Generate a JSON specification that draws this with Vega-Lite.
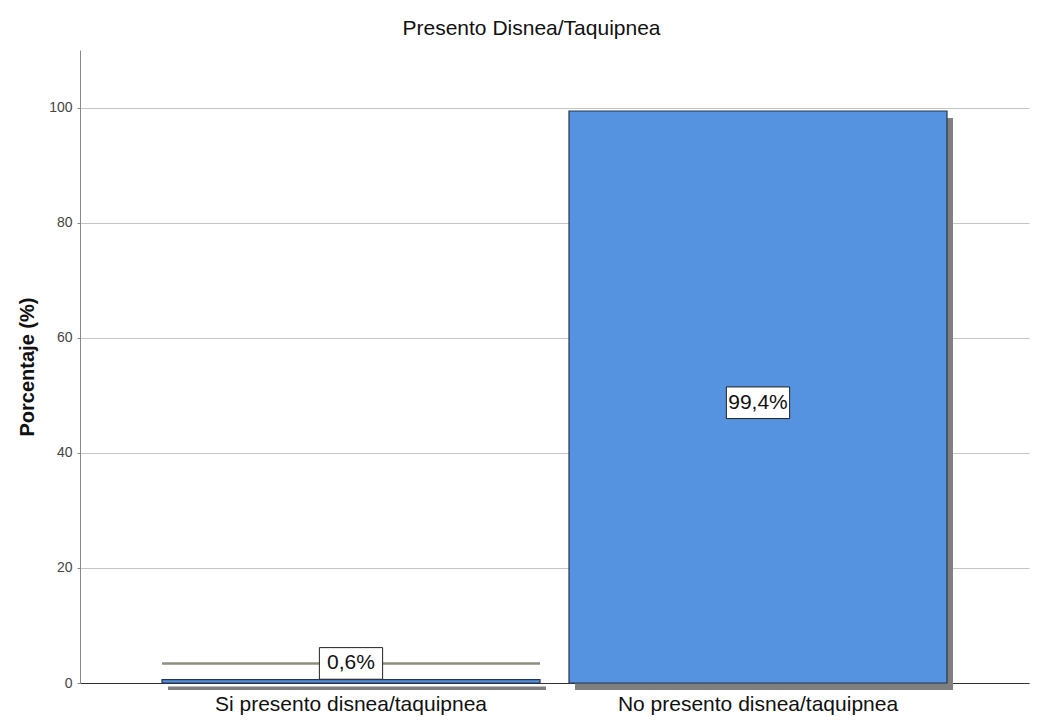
{
  "$schema": "https://vega.github.io/schema/vega-lite/v6.json",
  "autosize": {"type": "none"},
  "padding": {"left": 80, "top": 50, "right": 26, "bottom": 39},
  "width": 949,
  "height": 633,
  "background": "white",
  "title": {
    "text": "Presento Disnea/Taquipnea",
    "font": "Liberation Sans, Arial, sans-serif",
    "fontSize": 21,
    "fontWeight": "normal",
    "color": "#111111",
    "anchor": "middle",
    "dx": -23,
    "offset": 11
  },
  "data": {
    "values": [
      {"categoria": "Si presento disnea/taquipnea", "porcentaje": 0.6, "etiqueta": "0,6%", "pos_etiqueta": 3.4, "linea": 3.4},
      {"categoria": "No presento disnea/taquipnea", "porcentaje": 99.4, "etiqueta": "99,4%", "pos_etiqueta": 48.7, "linea": null}
    ]
  },
  "encoding": {
    "x": {
      "field": "categoria",
      "type": "nominal",
      "sort": null,
      "scale": {"paddingInner": 0.0713, "paddingOuter": 0.2015},
      "axis": {
        "title": null,
        "labelAngle": 0,
        "labelLimit": 0,
        "ticks": false,
        "labelPadding": 10,
        "labelFont": "Liberation Sans, Arial, sans-serif",
        "labelFontSize": 21,
        "labelColor": "#111111",
        "domainColor": "#333333",
        "grid": false
      }
    }
  },
  "layer": [
    {
      "mark": {"type": "bar", "color": "#7f7f7f", "xOffset": 6, "yOffset": 7},
      "encoding": {
        "y": {
          "field": "porcentaje",
          "type": "quantitative",
          "scale": {"domain": [0, 110], "nice": false},
          "axis": {
            "title": "Porcentaje (%)",
            "titleFont": "Liberation Sans, Arial, sans-serif",
            "titleFontSize": 20,
            "titleFontWeight": "bold",
            "titleColor": "#111111",
            "titlePadding": 11,
            "values": [0, 20, 40, 60, 80, 100],
            "labelFont": "Liberation Sans, Arial, sans-serif",
            "labelFontSize": 14,
            "labelColor": "#444444",
            "labelPadding": 5,
            "tickSize": 3,
            "tickColor": "#888888",
            "domainColor": "#888888",
            "gridColor": "#c4c4c4",
            "gridWidth": 1
          }
        }
      }
    },
    {
      "mark": {"type": "bar", "color": "#5592e0", "stroke": "#26344f", "strokeWidth": 1.2},
      "encoding": {"y": {"field": "porcentaje", "type": "quantitative"}}
    },
    {
      "mark": {"type": "bar", "fill": null, "stroke": "#8c9080", "strokeWidth": 2.5},
      "encoding": {
        "y": {"field": "linea", "type": "quantitative"},
        "y2": {"field": "linea"}
      }
    },
    {
      "mark": {"type": "point", "shape": "M-1,-0.5H1V0.5H-1Z", "filled": true, "fill": "white", "stroke": "#222222", "strokeWidth": 1, "opacity": 1, "size": 4000},
      "encoding": {"y": {"field": "pos_etiqueta", "type": "quantitative"}}
    },
    {
      "mark": {"type": "text", "font": "Liberation Sans, Arial, sans-serif", "fontSize": 21, "color": "#111111", "baseline": "middle", "align": "center"},
      "encoding": {
        "y": {"field": "pos_etiqueta", "type": "quantitative"},
        "text": {"field": "etiqueta"}
      }
    }
  ],
  "config": {"view": {"stroke": null}}
}
